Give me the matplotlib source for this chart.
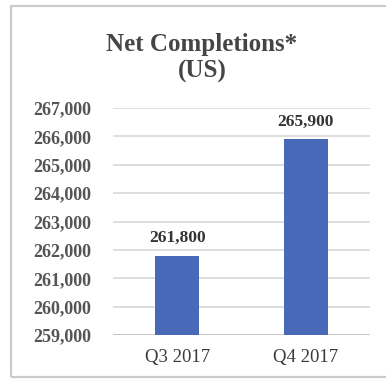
import matplotlib
matplotlib.use("Agg")
import matplotlib.pyplot as plt
from matplotlib.patches import Rectangle

# Net completions by quarter (US)
quarters = ["Q3 2017", "Q4 2017"]
completions = [261800, 265900]
y_ticks = [259000, 260000, 261000, 262000, 263000, 264000, 265000, 266000, 267000]

serif = ["Liberation Serif", "DejaVu Serif"]
bar_color = "#4868b8"
grid_color = "#d4d4d4"

fig = plt.figure(figsize=(3.86, 3.81), dpi=100)
fig.patch.set_facecolor("white")

# Light frame around the chart area
fig.patches.append(Rectangle((0.0285, 0.0105), 1.05, 0.974, transform=fig.transFigure,
                             fill=False, edgecolor="#cbcbcb", linewidth=1.6, clip_on=False))

ax = fig.add_axes([0.2927, 0.1207, 0.6658, 0.5958])
x = range(len(quarters))
ax.bar(x, completions, width=0.34, color=bar_color, zorder=3)
ax.set_xlim(-0.5, len(quarters) - 0.5)
ax.set_ylim(y_ticks[0], y_ticks[-1])
ax.set_yticks(y_ticks)
ax.set_yticklabels([f"{v:,}" for v in y_ticks])
ax.set_xticks(list(x))
ax.set_xticklabels(quarters)

for spine in ax.spines.values():
    spine.set_visible(False)
ax.yaxis.grid(True, color=grid_color, linewidth=1.1, zorder=0)
ax.axhline(y_ticks[0], color="#c4c4c4", linewidth=1.3, zorder=2)
ax.tick_params(axis="both", length=0)
ax.tick_params(axis="y", pad=16)
ax.tick_params(axis="x", pad=10)

for lbl in ax.get_yticklabels():
    lbl.set_fontfamily(serif)
    lbl.set_fontweight("bold")
    lbl.set_fontsize(13)
    lbl.set_color("#555555")
for lbl in ax.get_xticklabels():
    lbl.set_fontfamily(serif)
    lbl.set_fontsize(13.5)
    lbl.set_color("#3c3c3c")

for xi, v in zip(x, completions):
    ax.annotate(f"{v:,}", (xi, v), xytext=(0, 7), textcoords="offset points",
                ha="center", va="bottom", family=serif, fontweight="bold",
                fontsize=12.5, color="#333333")

fig.text(0.523, 0.848, "Net Completions*\n(US)", ha="center", va="center",
         family=serif, fontweight="bold", fontsize=18, color="#454545",
         linespacing=1.2)

fig.savefig("out.png", dpi=100, facecolor="white")
